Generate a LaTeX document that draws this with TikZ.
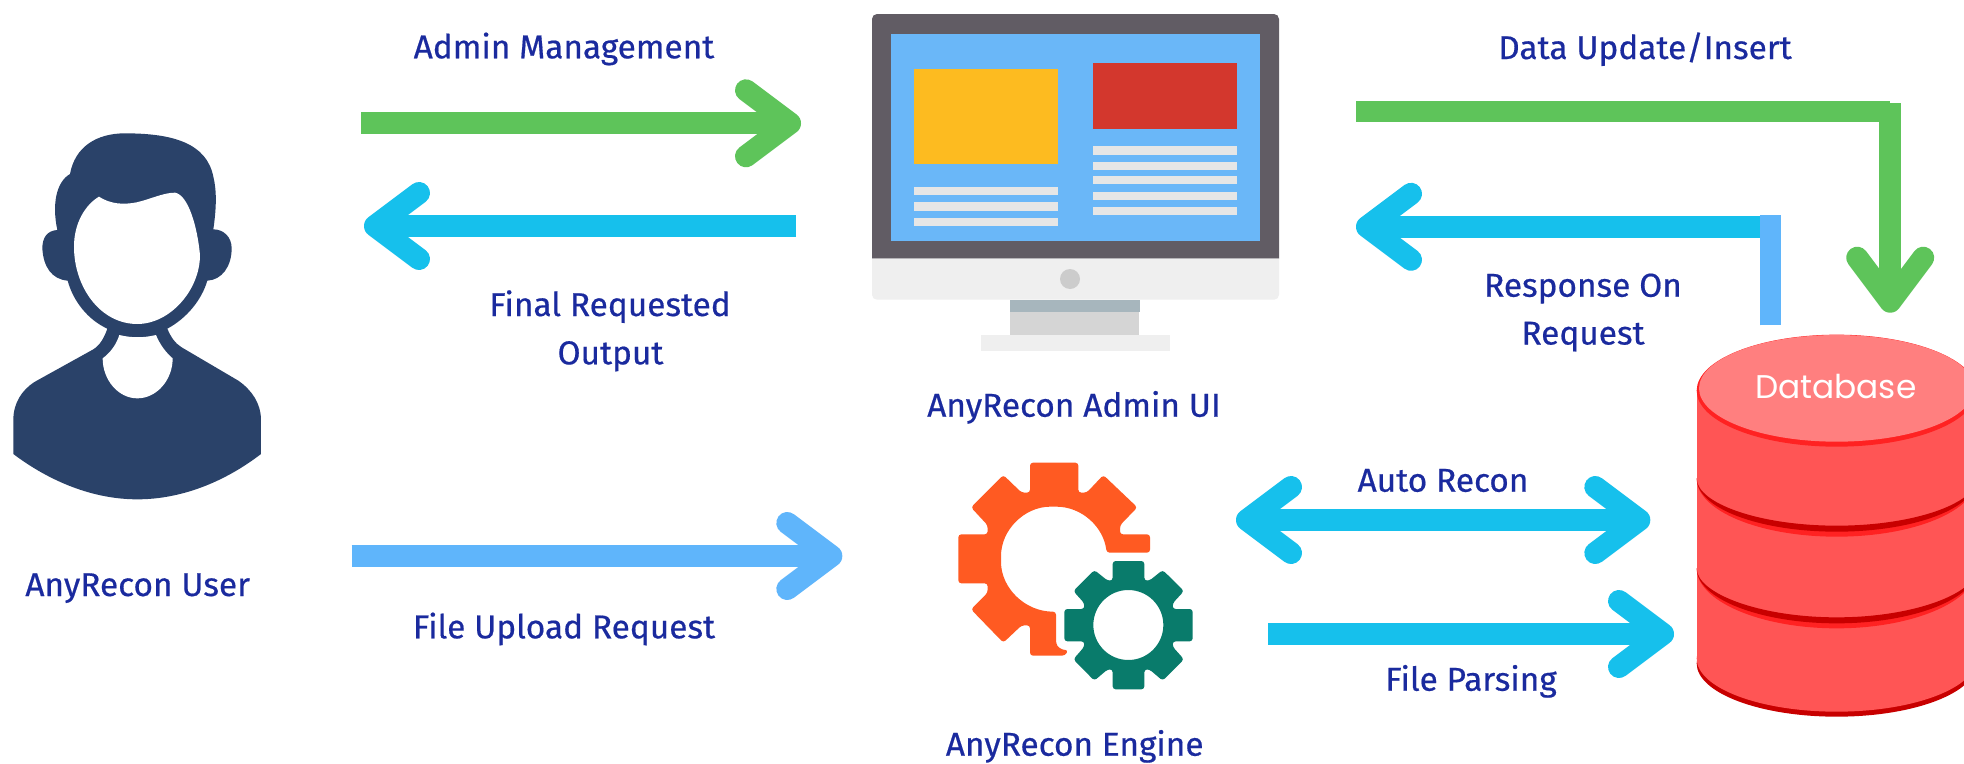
\documentclass[tikz,border=0pt]{standalone}
\usepackage{fontspec}
\usetikzlibrary{arrows.meta}
\newfontfamily\labfont[FakeStretch=1.012,FakeBold=0.5]{Fira Sans}
\newfontfamily\dbfont{Poppins}
\definecolor{cgreen}{HTML}{5EC45A}
\definecolor{ccyan}{HTML}{16C0EC}
\definecolor{cblue}{HTML}{5FB5FB}
\definecolor{clabel}{HTML}{1A2A9E}
\definecolor{cuser}{HTML}{2A4269}
\definecolor{cframe}{HTML}{615C64}
\definecolor{cscreen}{HTML}{6AB7F8}
\definecolor{cpale}{HTML}{EFEFEF}
\definecolor{cline}{HTML}{E6E6E6}
\definecolor{cbody}{HTML}{FF5555}
\definecolor{ctop}{HTML}{FF7F7F}
\definecolor{crim}{HTML}{FF2222}
\definecolor{cdark}{HTML}{C80000}
\definecolor{cyellow}{HTML}{FDBB20}
\definecolor{cred}{HTML}{D3372D}
\definecolor{cbutton}{HTML}{CCCCCC}
\definecolor{cneck}{HTML}{D5D5D5}
\definecolor{cshade}{HTML}{A7B6BD}
\definecolor{corange}{HTML}{FF5A22}
\definecolor{cteal}{HTML}{097B6B}
\tikzset{
  flow/.style={line width=22pt,line cap=butt,
    -{Straight Barb[length=44pt,width=66pt,line width=22pt,round]}},
  flowboth/.style={line width=22pt,line cap=butt,
    {Straight Barb[length=44pt,width=66pt,line width=22pt,round]}-{Straight Barb[length=44pt,width=66pt,line width=22pt,round]}},
  lab/.style={text=clabel,anchor=base,inner sep=0pt,font=\labfont\fontsize{33}{38}\selectfont},
  dbtext/.style={text=white,anchor=base,inner sep=0pt,font=\dbfont\fontsize{32.8}{38}\selectfont},
}
\begin{document}
\begin{tikzpicture}[x=1pt,y=-1pt]
\path[use as bounding box] (0,0) rectangle (1964,763);
\clip (0,0) rectangle (1964,763);
\fill[white] (0,0) rectangle (1964,763);

% user icon
\begin{scope}[shift={(0,110)},x=.33333pt,y=-.33333pt]
\fill[cuser] (40,1032) .. controls (150,1115) and (280,1168) .. (412,1168)
  .. controls (545,1168) and (675,1115) .. (783,1032)
  -- (783,930) .. controls (783,880) and (755,840) .. (715,812)
  -- (545,712) .. controls (525,700) and (512,680) .. (502,656)
  .. controls (560,625) and (605,570) .. (622,512)
  .. controls (665,510) and (695,470) .. (695,415)
  .. controls (695,380) and (670,358) .. (640,358)
  .. controls (650,290) and (650,240) .. (640,200)
  .. controls (620,100) and (520,70) .. (375,70)
  .. controls (290,70) and (225,110) .. (210,192)
  .. controls (170,215) and (155,280) .. (172,360)
  .. controls (140,362) and (127,385) .. (127,415)
  .. controls (130,470) and (155,508) .. (203,512)
  .. controls (220,575) and (265,630) .. (322,656)
  .. controls (312,685) and (300,705) .. (280,718)
  -- (105,815) .. controls (65,840) and (40,880) .. (40,930) -- cycle;
\fill[white] (297,260) .. controls (330,282) and (370,285) .. (410,277)
  .. controls (450,268) and (490,248) .. (525,248)
  .. controls (565,255) and (592,350) .. (600,435)
  .. controls (600,540) and (510,642) .. (412,642)
  .. controls (300,642) and (222,530) .. (222,410)
  .. controls (222,340) and (255,285) .. (297,260) -- cycle;
\fill[white] (358,675) .. controls (395,684) and (430,684) .. (468,675)
  .. controls (480,705) and (500,730) .. (518,745)
  .. controls (518,810) and (470,865) .. (412,865)
  .. controls (355,865) and (308,810) .. (308,745)
  .. controls (335,725) and (350,700) .. (358,675) -- cycle;
\end{scope}

% monitor icon
\fill[cframe] (872,258.7) [rounded corners=5pt] -- (872,14) -- (1279,14) [sharp corners] -- (1279,258.7) -- cycle;
\fill[cpale] (872,258.7) [rounded corners=5pt] -- (872,299.7) -- (1279,299.7) [sharp corners] -- (1279,258.7) -- cycle;
\fill[cscreen] (891.3,34) rectangle (1259.7,240.7);
\fill[cyellow] (913.7,69.3) rectangle (1058,164.3);
\fill[cred] (1092.7,62.7) rectangle (1237.3,129.3);
\foreach \a/\b in {186.7/195,202.3/210.7,217.7/226}
  \fill[cline] (913.7,\a) rectangle (1058,\b);
\foreach \a/\b in {146/154.7,162/170,176/184.3,191.7/200,206.7/215}
  \fill[cline] (1092.7,\a) rectangle (1237.3,\b);
\fill[cbutton] (1070,279) circle[radius=10];
\fill[cneck] (1010,312) rectangle (1139.3,334.7);
\fill[cshade] (1010,299.7) rectangle (1139.6,312.3);
\fill[cpale] (980.7,334.7) rectangle (1170.3,350.7);

% gears icon
\begin{scope}[shift={(940,450)},x=.33333pt,y=-.33333pt]
\fill[corange,rounded corners=3pt] (270,38) -- (415,38) -- (415,128) -- (440,128) -- (490,75) -- (592,172) -- (540,226) -- (540,253) -- (630,253) -- (630,308) -- (500,308)
  .. controls (490,230) and (425,170) .. (340,170)
  .. controls (253,170) and (183,240) .. (183,327)
  .. controls (183,414) and (255,485) .. (348,485)
  -- (348,570) .. controls (350,590) and (365,600) .. (385,600) -- (375,617) -- (270,617) -- (270,526) -- (245,526) -- (190,578) -- (93,478) -- (143,428) -- (143,400) -- (55,400) -- (55,253) -- (143,253) -- (143,226) -- (93,172) -- (190,75) -- (245,128) -- (270,128) -- cycle;
\fill[cteal,rounded corners=3pt,even odd rule]
  (518,333) -- (613,333) -- (613,392) -- (628,392) -- (668,360) -- (732,423) -- (698,460) -- (698,477) -- (758,477) -- (758,574) -- (698,574) -- (698,590) -- (732,628) -- (668,692) -- (628,658) -- (613,658) -- (613,718) -- (518,718) -- (518,658) -- (503,658) -- (463,692) -- (400,628) -- (433,590) -- (433,574) -- (373,574) -- (373,477) -- (433,477) -- (433,460) -- (400,423) -- (463,360) -- (503,392) -- (518,392) -- cycle
  (565,525) circle[radius=105];
\end{scope}

% database icon
\begin{scope}[shift={(1680,320)},x=.33333pt,y=-.33333pt]
\fill[cdark] (470,1030) ellipse[x radius=420,y radius=160];
\fill[cbody] (470,1015) ellipse[x radius=420,y radius=160];
\fill[cbody] (50,210) rectangle (890,1015);
\fill[crim] (50,475) .. controls (50,572) and (238,650) .. (470,650) .. controls (702,650) and (890,572) .. (890,475)
  .. controls (890,560) and (702,632) .. (470,632) .. controls (238,632) and (50,560) .. (50,475) -- cycle;
\fill[cdark] (50,475) .. controls (50,565) and (238,635) .. (470,635) .. controls (702,635) and (890,565) .. (890,475)
  .. controls (890,550) and (702,617) .. (470,617) .. controls (238,617) and (50,550) .. (50,475) -- cycle;
\fill[crim] (50,745) .. controls (50,842) and (238,925) .. (470,925) .. controls (702,925) and (890,842) .. (890,745)
  .. controls (890,830) and (702,907) .. (470,907) .. controls (238,907) and (50,830) .. (50,745) -- cycle;
\fill[cdark] (50,745) .. controls (50,835) and (238,910) .. (470,910) .. controls (702,910) and (890,835) .. (890,745)
  .. controls (890,820) and (702,892) .. (470,892) .. controls (238,892) and (50,820) .. (50,745) -- cycle;
\fill[crim] (470,212) ellipse[x radius=420,y radius=168];
\fill[ctop] (470,205) ellipse[x radius=413,y radius=160];
\end{scope}
\node[dbtext] (dblabel) at (1835.7,398) {Database};

% connector ends
\coordinate (userOut) at (361,123.3);
\coordinate (adminIn) at (801,123.3);
\coordinate (adminOut) at (796,226);
\coordinate (userIn) at (364,226);
\coordinate (uploadOut) at (351.7,556);
\coordinate (engineIn) at (842.3,556);
\coordinate (reconL) at (1236,520);
\coordinate (reconR) at (1650.3,520);
\coordinate (parseOut) at (1268,634);
\coordinate (parseIn) at (1674,634);
\coordinate (updateOut) at (1356,111.7);
\coordinate (updateCorner) at (1890,111.7);
\coordinate (updateTop) at (1890.2,103);
\coordinate (updateIn) at (1890.2,312.7);
\coordinate (respCorner) at (1770.7,226.8);
\coordinate (respTop) at (1770.7,215.3);
\coordinate (respOut) at (1770.7,325.3);
\coordinate (respIn) at (1356,226.8);

% connectors
\draw[flow,draw=cgreen] (userOut) -- (adminIn);
\draw[flow,draw=ccyan] (adminOut) -- (userIn);
\draw[flow,draw=cblue] (uploadOut) -- (engineIn);
\draw[flowboth,draw=ccyan] (reconL) -- (reconR);
\draw[flow,draw=ccyan] (parseOut) -- (parseIn);
\draw[draw=cgreen,line width=21.5pt] (updateOut) -- (updateCorner);
\draw[flow,draw=cgreen,line width=21.5pt] (updateTop) -- (updateIn);
\draw[flow,draw=ccyan] (respCorner) -- (respIn);
\draw[draw=cblue,line width=21.3pt] (respOut) -- (respTop);

% labels
\node[lab] (l1) at (564,58.3) {Admin Management};
\node[lab] (l2) at (610,316) {Final Requested};
\node[lab] (l3) at (610.5,364.3) {Output};
\node[lab] (l4) at (564,638.3) {File Upload Request};
\node[lab] (l5) at (1443,491.7) {Auto Recon};
\node[lab] (l6) at (1471,690.7) {File Parsing};
\node[lab] (l7) at (1645,59) {Data Update/Insert};
\node[lab] (l8) at (1583,296.7) {Response On};
\node[lab] (l9) at (1583,344.5) {Request};
\node[lab] (l10) at (1074,416.7) {AnyRecon Admin UI};
\node[lab] (l11) at (1074.7,755.7) {AnyRecon Engine};
\node[lab] (l12) at (137.7,596) {AnyRecon User};
\end{tikzpicture}
\end{document}
